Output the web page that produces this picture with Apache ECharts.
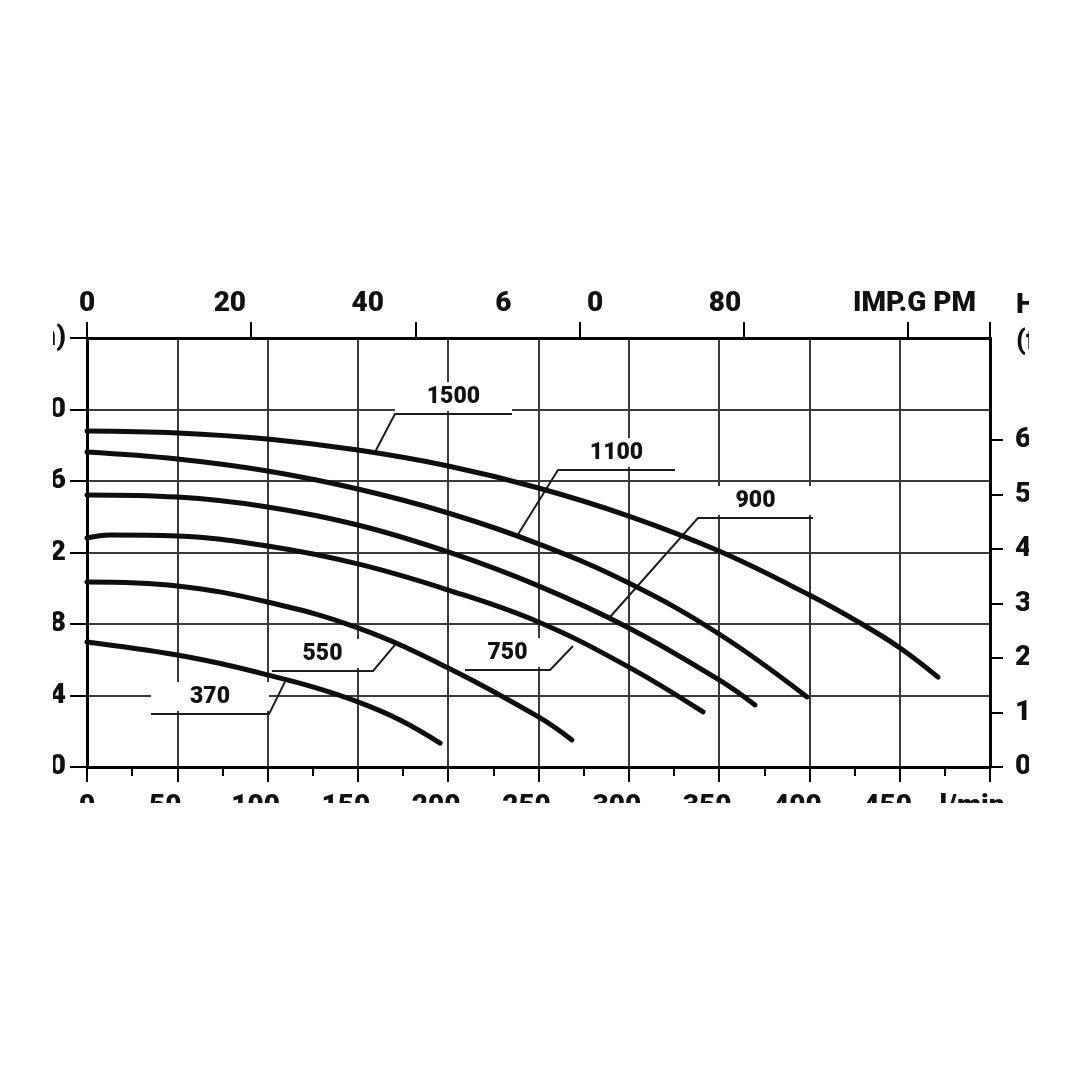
<!DOCTYPE html>
<html><head><meta charset="utf-8">
<script src="https://cdn.jsdelivr.net/npm/echarts/dist/echarts.min.js"></script>
<style>
html,body{margin:0;padding:0;background:#fff;width:1080px;height:1080px;overflow:hidden}
#clip{position:absolute;left:53px;top:270px;width:976px;height:533px;overflow:hidden}
#chart{position:absolute;left:-53px;top:-270px;width:1080px;height:1080px}
</style></head><body>
<div id="clip"><div id="chart"></div></div>
<script>
// Flow (l/min) and head (m), one pair of arrays per motor power curve
const curveNames = ['1500', '1100', '900', '750', '550', '370'];
const flow1500 = [0, 50, 100, 150, 200, 250, 300, 350, 400, 428.0, 450.2, 471.2];
const head1500 = [18.80, 18.69, 18.35, 17.73, 16.84, 15.61, 14.04, 12.08, 9.62, 8.06, 6.66, 5.03];
const flow1100 = [0, 50, 100, 150, 200, 250, 300, 350, 398.7];
const head1100 = [17.62, 17.23, 16.56, 15.55, 14.21, 12.48, 10.29, 7.44, 3.92];
const flow900 = [0, 50, 100, 150, 200, 250, 300, 350, 369.9];
const head900 = [15.22, 15.10, 14.55, 13.54, 12.03, 10.13, 7.78, 4.87, 3.47];
const flow750 = [0, 12.7, 50, 100, 150, 200, 250, 300, 341.1];
const head750 = [12.81, 12.98, 12.92, 12.36, 11.36, 9.90, 8.11, 5.59, 3.08];
const flow550 = [0, 50, 100, 150, 200, 250, 268.5];
const head550 = [10.35, 10.13, 9.23, 7.78, 5.54, 2.80, 1.51];
const flow370 = [0, 50, 75, 100, 125, 150, 173.3, 195.5];
const head370 = [6.99, 6.27, 5.76, 5.15, 4.48, 3.64, 2.63, 1.34];

// Axis tick labels
const leftTopLabel = '(m)';
const flowUnitLabel = 'l/min';
const topLabels = ['0', '20', '40', '6', '0', '80', 'IMP.G PM'];
const topLabelPos = [0, 17.4, 34.2, 50.7, 61.9, 77.7, 100.8]; // in IMP GPM
const rightTicks = [0, 10, 20, 30, 40, 50, 60]; // feet
const rightUnitLabel = '(ft)';
const rightHeadLabel = 'H';

// Curve callouts: underline [flowStart, flowEnd, head], leader tip [flow, head]
const annoText = ['1500', '1100', '900', '750', '550', '370'];
const annoUnder = [[170.5, 235.3, 19.75], [260.8, 325.6, 16.62], [338.3, 402.0, 13.93],
                   [209.3, 256.4, 5.43], [102.4, 158.4, 5.37], [35.4, 100.8, 2.97]];
const annoTip = [[159.5, 17.62], [238.1, 12.92], [289.6, 8.39],
                 [269.1, 6.77], [170.5, 6.83], [109.6, 4.76]];

const flows = [flow1500, flow1100, flow900, flow750, flow550, flow370];
const heads = [head1500, head1100, head900, head750, head550, head370];

const FONT = 'Roboto';
const WEIGHT = 900;
const INK = '#111111';
const GRID = '#3a3a3a';
const GPM_MAX = 500 / 4.54609;
const FT_MAX = 24 / 0.3048;

const chart = echarts.init(document.getElementById('chart'), null, {renderer: 'canvas'});

const lineSeries = curveNames.map((n, k) => ({
  name: n, type: 'line', xAxisIndex: 0, yAxisIndex: 0,
  data: flows[k].map((q, i) => [q, heads[k][i]]),
  smooth: 0.4, symbol: 'none', z: 5,
  lineStyle: {color: '#0e0e0e', width: 5, cap: 'round'}
}));

const labelSeries = {
  type: 'custom', coordinateSystem: 'cartesian2d', xAxisIndex: 0, yAxisIndex: 0, z: 3,
  silent: true, clip: false,
  data: annoUnder.map(u => [u[0], u[2]]),
  renderItem: function (params, api) {
    const i = params.dataIndex;
    const u = annoUnder[i], t = annoTip[i];
    const p1 = api.coord([u[0], u[2]]), p2 = api.coord([u[1], u[2]]), tip = api.coord(t);
    const pts = t[0] < u[0] ? [p2, p1, tip] : [p1, p2, tip];
    return {type: 'group', children: [
      {type: 'rect', shape: {x: p1[0], y: p1[1] - 32, width: p2[0] - p1[0], height: 29}, style: {fill: '#fff'}},
      {type: 'text', x: (p1[0] + p2[0]) / 2, y: p1[1] - 17,
       style: {text: annoText[i], font: WEIGHT + ' 23px ' + FONT, fill: INK, align: 'center', verticalAlign: 'middle'}},
      {type: 'polyline', shape: {points: pts}, style: {stroke: '#1e1e1e', lineWidth: 2, fill: null}}
    ]};
  }
};

const topLabelSeries = {
  type: 'scatter', xAxisIndex: 1, yAxisIndex: 0, symbolSize: 0, clip: false, silent: true, z: 6,
  itemStyle: {opacity: 1},
  data: topLabelPos.map((p, i) => ({value: [p, 24], name: topLabels[i]})),
  label: {show: true, position: 'inside', offset: [0, -34], formatter: p => p.name, opacity: 1,
          fontFamily: FONT, fontWeight: WEIGHT, fontSize: 28, color: INK}
};

const richBase = {fontFamily: FONT, fontWeight: WEIGHT, fontSize: 28, color: INK};
const axisLineStyle = {show: true, onZero: false, lineStyle: {color: '#000', width: 3}};

chart.setOption({
  animation: false,
  backgroundColor: '#fff',
  grid: {left: 87, top: 338, width: 903, height: 429, containLabel: false},
  xAxis: [{
    type: 'value', position: 'bottom', min: 0, max: 500, interval: 50,
    axisLine: axisLineStyle,
    axisTick: {show: true, inside: false, length: 15, lineStyle: {color: '#000', width: 2}},
    minorTick: {show: true, splitNumber: 2, length: 9, lineStyle: {color: '#000', width: 2}},
    splitLine: {show: true, lineStyle: {color: GRID, width: 2}},
    axisLabel: {
      margin: 26, verticalAlign: 'top',
      formatter: v => v === 500 ? '{u|' + flowUnitLabel + '}' : (v === 0 ? '{z|0}' : '{n|' + v + '}'),
      rich: {
        n: Object.assign({padding: [0, 24, 0, 0]}, richBase),
        u: Object.assign({padding: [0, 36, 0, 0]}, richBase),
        z: Object.assign({}, richBase)
      }
    }
  }, {
    type: 'value', position: 'top', min: 0, max: GPM_MAX, interval: 20,
    axisLine: axisLineStyle,
    axisTick: {show: true, inside: false, length: 16, lineStyle: {color: '#000', width: 2}},
    splitLine: {show: false},
    axisLabel: {show: false}
  }],
  yAxis: [{
    type: 'value', position: 'left', min: 0, max: 24, interval: 4,
    axisLine: axisLineStyle,
    axisTick: {show: true, inside: false, length: 17, lineStyle: {color: '#000', width: 2}},
    splitLine: {show: true, lineStyle: {color: GRID, width: 2}},
    axisLabel: {margin: 21, fontFamily: FONT, fontWeight: WEIGHT, fontSize: 28, color: INK,
                formatter: v => v === 24 ? leftTopLabel : String(v)}
  }, {
    type: 'value', position: 'right', min: 0, max: FT_MAX, interval: 10,
    axisLine: axisLineStyle,
    axisTick: {show: true, inside: false, length: 13, customValues: rightTicks,
               lineStyle: {color: '#000', width: 2}},
    splitLine: {show: false},
    axisLabel: {margin: 25, fontFamily: FONT, fontWeight: WEIGHT, fontSize: 28, color: INK,
                customValues: rightTicks, formatter: v => String(v)}
  }],
  graphic: [
    {type: 'text', left: 1016, top: 292, silent: true,
     style: {text: rightHeadLabel, font: WEIGHT + ' 28px ' + FONT, fill: INK}},
    {type: 'text', left: 1016, top: 328, silent: true,
     style: {text: rightUnitLabel, font: WEIGHT + ' 28px ' + FONT, fill: INK}}
  ],
  series: [labelSeries].concat(lineSeries).concat([topLabelSeries])
});
</script>
</body></html>
